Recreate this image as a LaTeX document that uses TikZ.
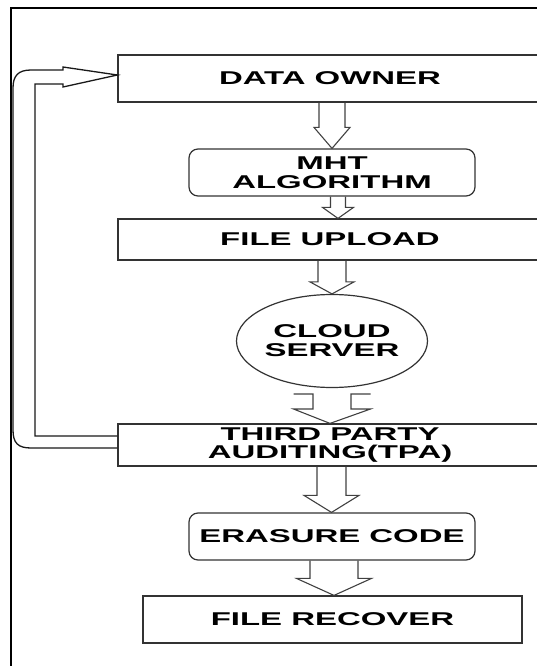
\documentclass[tikz,border=0pt]{standalone}
\usepackage{fontspec}
\usetikzlibrary{shapes.geometric,calc}
\newfontfamily\lab{Liberation Sans}[FakeStretch=1.78]

\tikzset{
  frameline/.style={draw=black, line width=2bp},
  base/.style={draw=black!80, line width=1.2bp, fill=white, inner sep=0pt,
    align=center, font=\lab\bfseries\fontsize{18.5bp}{19bp}\selectfont},
  box/.style={base, rectangle},
  rbox/.style={base, rectangle, rounded corners=9bp},
  oval/.style={base, ellipse},
  blockarrow/.style={draw=black!75, line width=1.1bp, line join=miter},
  looparrow/.style={draw=black!90, line width=1.3bp, line join=miter},
}

% hollow block arrow pointing down from the south side of #1 to the north side of #2
% #3 axis x, #4 shaft half width, #5 head half width, #6 head length
\newcommand\blockdown[6]{%
  \draw[blockarrow] let \p1=(#1.south), \p2=(#2.north) in
    ({(#3-#4)*1bp},\y1) -- ({(#3-#4)*1bp},{\y2+#6*1bp})
    -- ({(#3-#5)*1bp},{\y2+#6*1bp}) -- ({#3*1bp},\y2)
    -- ({(#3+#5)*1bp},{\y2+#6*1bp}) -- ({(#3+#4)*1bp},{\y2+#6*1bp})
    -- ({(#3+#4)*1bp},\y1);}

\begin{document}
\begin{tikzpicture}[x=1bp,y=-1bp]
\useasboundingbox (0,0) rectangle (537,666);

% outer frame
\draw[frameline] (11,700) -- (11,8) -- (560,8);

% process steps
\node[box,  minimum width=424bp, minimum height=47bp] (do)  at (330,78.5)  {DATA OWNER};
\node[rbox, minimum width=286bp, minimum height=47bp] (mht) at (332,172.5) {MHT\\ALGORITHM};
\node[box,  minimum width=424bp, minimum height=41bp] (fu)  at (330,239.5) {FILE UPLOAD};
\node[oval, minimum width=191bp, minimum height=93bp] (cs)  at (332,341)   {CLOUD\\SERVER};
\node[box,  minimum width=424bp, minimum height=42bp,
      font=\lab\bfseries\fontsize{18.5bp}{18bp}\selectfont] (tpa) at (330,445) {THIRD PARTY\\AUDITING(TPA)};
\node[rbox, minimum width=286bp, minimum height=47bp] (ec)  at (332,536.5) {ERASURE CODE};
\node[box,  minimum width=379bp, minimum height=47bp] (fr)  at (332.5,619.5) {FILE RECOVER};

% flow arrows
\blockdown{do}{mht}{332}{13}{18}{21}
\blockdown{mht}{fu}{338}{7.5}{15.5}{11}
\blockdown{fu}{cs}{332}{14}{22}{12}
\blockdown{tpa}{ec}{331.5}{14.5}{27.5}{17}
\blockdown{ec}{fr}{334}{24}{37.5}{17}

% cloud server to auditor
\draw[blockarrow] (293.5,394) -- (313,394) -- (313,409) -- (293.5,409)
  -- (tpa.north) -- (370.5,409) -- (351,409) -- (351,394) -- (370.5,394);

% feedback from the auditor back to the data owner
\draw[looparrow] (tpa.west |- 0,448) -- (31,448)
  .. controls (18,448) and (13,443) .. (13,430)
  -- (13,88) .. controls (13,76) and (18,70) .. (31,70)
  -- (63,70) -- (63,67) -- (do.west |- 0,75) -- (63,87) -- (63,84)
  -- (35,84) -- (35,436) -- (tpa.west |- 0,436);
\end{tikzpicture}
\end{document}
